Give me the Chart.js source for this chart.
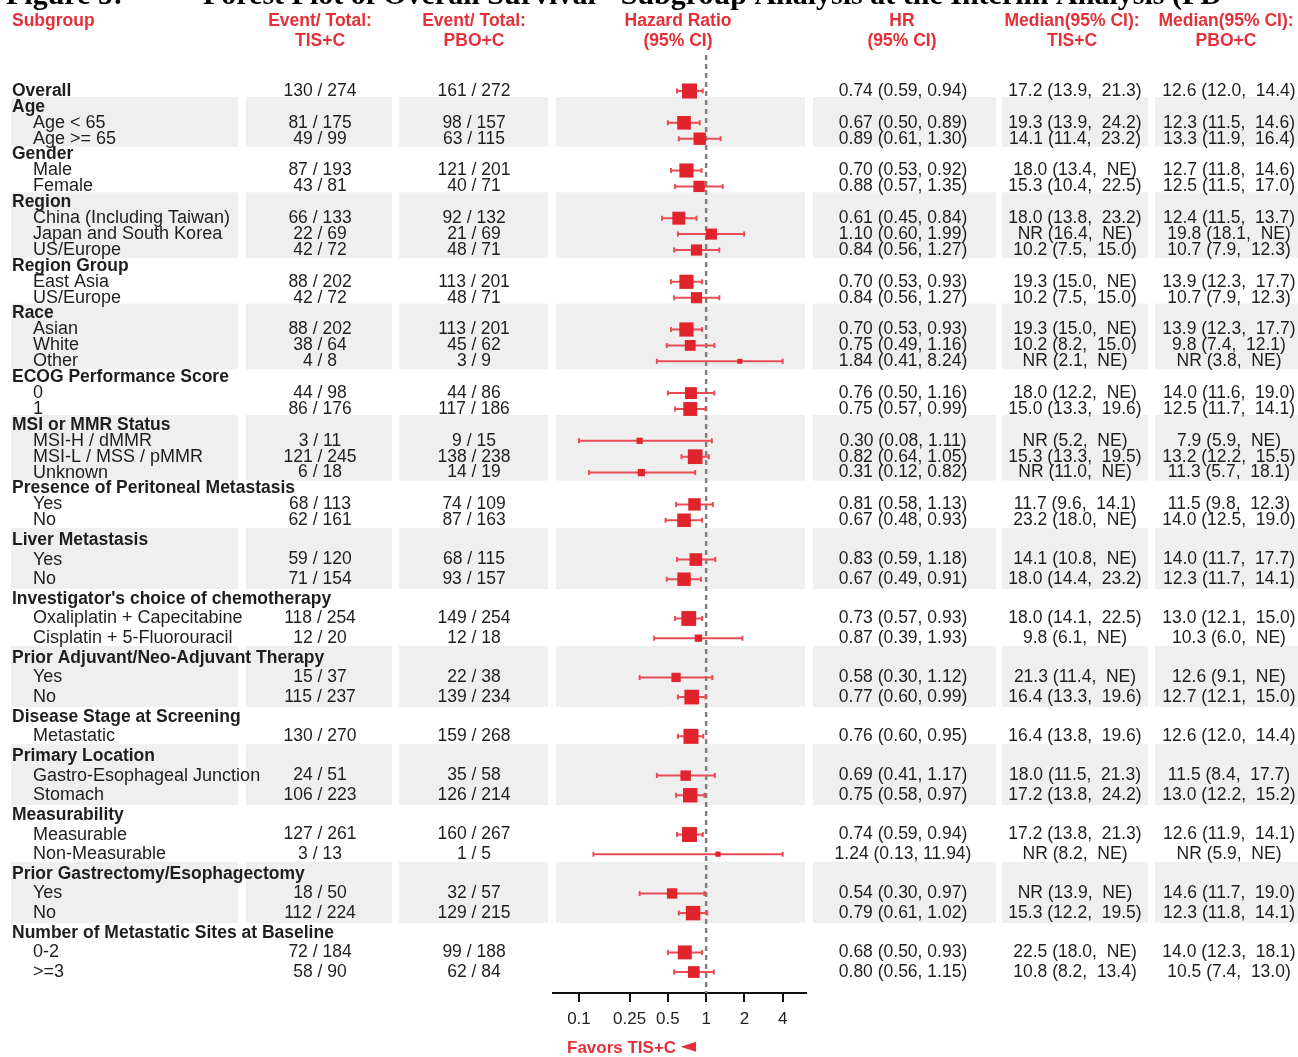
<!DOCTYPE html>
<html>
<head>
<meta charset="utf-8">
<script src="https://cdn.jsdelivr.net/npm/chart.js@4.4.1/dist/chart.umd.min.js"></script>
<style>
  html, body { margin: 0; padding: 0; background: #ffffff; overflow: hidden; }
  canvas { display: block; }
</style>
</head>
<body>
<canvas id="forest" width="1298" height="1057"></canvas>
<script>
// ---- Subgroup definitions -------------------------------------------------
const groupNames = [
  'Overall', 'Age', 'Gender', 'Region', 'Region Group', 'Race', 'ECOG Performance Score',
  'MSI or MMR Status', 'Presence of Peritoneal Metastasis', 'Liver Metastasis',
  "Investigator's choice of chemotherapy", 'Prior Adjuvant/Neo-Adjuvant Therapy',
  'Disease Stage at Screening', 'Primary Location', 'Measurability',
  'Prior Gastrectomy/Esophagectomy', 'Number of Metastatic Sites at Baseline'
];

const subgroups = [
  'Overall',
  'Age < 65', 'Age >= 65',
  'Male', 'Female',
  'China (Including Taiwan)', 'Japan and South Korea', 'US/Europe',
  'East Asia', 'US/Europe',
  'Asian', 'White', 'Other',
  '0', '1',
  'MSI-H / dMMR', 'MSI-L / MSS / pMMR', 'Unknown',
  'Yes', 'No',
  'Yes', 'No',
  'Oxaliplatin + Capecitabine', 'Cisplatin + 5-Fluorouracil',
  'Yes', 'No',
  'Metastatic',
  'Gastro-Esophageal Junction', 'Stomach',
  'Measurable', 'Non-Measurable',
  'Yes', 'No',
  '0-2', '>=3'
];

const groupIndex = [0, 1, 1, 2, 2, 3, 3, 3, 4, 4, 5, 5, 5, 6, 6, 7, 7, 7, 8, 8,
                    9, 9, 10, 10, 11, 11, 12, 13, 13, 14, 14, 15, 15, 16, 16];

// ---- Events / totals -------------------------------------------------------
const eventsTis = [130, 81, 49, 87, 43, 66, 22, 42, 88, 42, 88, 38, 4, 44, 86, 3, 121, 6,
                   68, 62, 59, 71, 118, 12, 15, 115, 130, 24, 106, 127, 3, 18, 112, 72, 58];
const totalTis  = [274, 175, 99, 193, 81, 133, 69, 72, 202, 72, 202, 64, 8, 98, 176, 11, 245, 18,
                   113, 161, 120, 154, 254, 20, 37, 237, 270, 51, 223, 261, 13, 50, 224, 184, 90];
const eventsPbo = [161, 98, 63, 121, 40, 92, 21, 48, 113, 48, 113, 45, 3, 44, 117, 9, 138, 14,
                   74, 87, 68, 93, 149, 12, 22, 139, 159, 35, 126, 160, 1, 32, 129, 99, 62];
const totalPbo  = [272, 157, 115, 201, 71, 132, 69, 71, 201, 71, 201, 62, 9, 86, 186, 15, 238, 19,
                   109, 163, 115, 157, 254, 18, 38, 234, 268, 58, 214, 267, 5, 57, 215, 188, 84];

// ---- Hazard ratios (95% CI) ------------------------------------------------
const hazardRatio = [0.74, 0.67, 0.89, 0.70, 0.88, 0.61, 1.10, 0.84, 0.70, 0.84, 0.70, 0.75, 1.84,
                     0.76, 0.75, 0.30, 0.82, 0.31, 0.81, 0.67, 0.83, 0.67, 0.73, 0.87, 0.58, 0.77,
                     0.76, 0.69, 0.75, 0.74, 1.24, 0.54, 0.79, 0.68, 0.80];
const hrLower = [0.59, 0.50, 0.61, 0.53, 0.57, 0.45, 0.60, 0.56, 0.53, 0.56, 0.53, 0.49, 0.41,
                 0.50, 0.57, 0.08, 0.64, 0.12, 0.58, 0.48, 0.59, 0.49, 0.57, 0.39, 0.30, 0.60,
                 0.60, 0.41, 0.58, 0.59, 0.13, 0.30, 0.61, 0.50, 0.56];
const hrUpper = [0.94, 0.89, 1.30, 0.92, 1.35, 0.84, 1.99, 1.27, 0.93, 1.27, 0.93, 1.16, 8.24,
                 1.16, 0.99, 1.11, 1.05, 0.82, 1.13, 0.93, 1.18, 0.91, 0.93, 1.93, 1.12, 0.99,
                 0.95, 1.17, 0.97, 0.94, 11.94, 0.97, 1.02, 0.93, 1.15];

// ---- Median survival (95% CI), months ----------------------------------------
const medianTis = [
  '17.2 (13.9,  21.3)', '19.3 (13.9,  24.2)', '14.1 (11.4,  23.2)', '18.0 (13.4,  NE)',
  '15.3 (10.4,  22.5)', '18.0 (13.8,  23.2)', 'NR (16.4,  NE)', '10.2 (7.5,  15.0)',
  '19.3 (15.0,  NE)', '10.2 (7.5,  15.0)', '19.3 (15.0,  NE)', '10.2 (8.2,  15.0)',
  'NR (2.1,  NE)', '18.0 (12.2,  NE)', '15.0 (13.3,  19.6)', 'NR (5.2,  NE)',
  '15.3 (13.3,  19.5)', 'NR (11.0,  NE)', '11.7 (9.6,  14.1)', '23.2 (18.0,  NE)',
  '14.1 (10.8,  NE)', '18.0 (14.4,  23.2)', '18.0 (14.1,  22.5)', '9.8 (6.1,  NE)',
  '21.3 (11.4,  NE)', '16.4 (13.3,  19.6)', '16.4 (13.8,  19.6)', '18.0 (11.5,  21.3)',
  '17.2 (13.8,  24.2)', '17.2 (13.8,  21.3)', 'NR (8.2,  NE)', 'NR (13.9,  NE)',
  '15.3 (12.2,  19.5)', '22.5 (18.0,  NE)', '10.8 (8.2,  13.4)'
];
const medianPbo = [
  '12.6 (12.0,  14.4)', '12.3 (11.5,  14.6)', '13.3 (11.9,  16.4)', '12.7 (11.8,  14.6)',
  '12.5 (11.5,  17.0)', '12.4 (11.5,  13.7)', '19.8 (18.1,  NE)', '10.7 (7.9,  12.3)',
  '13.9 (12.3,  17.7)', '10.7 (7.9,  12.3)', '13.9 (12.3,  17.7)', '9.8 (7.4,  12.1)',
  'NR (3.8,  NE)', '14.0 (11.6,  19.0)', '12.5 (11.7,  14.1)', '7.9 (5.9,  NE)',
  '13.2 (12.2,  15.5)', '11.3 (5.7,  18.1)', '11.5 (9.8,  12.3)', '14.0 (12.5,  19.0)',
  '14.0 (11.7,  17.7)', '12.3 (11.7,  14.1)', '13.0 (12.1,  15.0)', '10.3 (6.0,  NE)',
  '12.6 (9.1,  NE)', '12.7 (12.1,  15.0)', '12.6 (12.0,  14.4)', '11.5 (8.4,  17.7)',
  '13.0 (12.2,  15.2)', '12.6 (11.9,  14.1)', 'NR (5.9,  NE)', '14.6 (11.7,  19.0)',
  '12.3 (11.8,  14.1)', '14.0 (12.3,  18.1)', '10.5 (7.4,  13.0)'
];

// ---- Axis ---------------------------------------------------------------------
const axisTicks = [0.1, 0.25, 0.5, 1, 2, 4];
const axisTickLabels = ['0.1', '0.25', '0.5', '1', '2', '4'];
const favorsLabel = 'Favors TIS+C';
const favorsArrow = '\u25C4';
const titleParts = ['Figure 5:', 'Forest Plot of Overall Survival - Subgroup Analysis at the Interim Analysis (FD'];
const headerLines = [
  ['Subgroup', ''], ['Event/ Total:', 'TIS+C'], ['Event/ Total:', 'PBO+C'],
  ['Hazard Ratio', '(95% CI)'], ['HR', '(95% CI)'],
  ['Median(95% CI):', 'TIS+C'], ['Median(95% CI):', 'PBO+C']
];

// ---- Layout ---------------------------------------------------------------------
const RED = '#e5303a';
const MARK = '#e1232d';
const CI_COLOR = '#e84c54';
const BAND = '#efefef';
const TEXT = '#1e1e1e';
const FONT = "'Liberation Sans', Arial, sans-serif";
const CLIP_LO = 0.1, CLIP_HI = 4;

// column extents of the shaded bands, and centres of text columns
const columns = [[11, 238], [246, 392], [399, 548], [556, 805], [813, 996], [1002, 1148], [1155, 1298]];
const colCentre = { evTis: 320, evPbo: 474, hrText: 903, medTis: 1075, medPbo: 1229 };
const headerX = [12, 320, 474, 678, 902, 1072, 1226];

// flatten groups + items into display rows
const rows = [];
(function buildRows() {
  let prev = -1;
  subgroups.forEach((name, k) => {
    const g = groupIndex[k];
    if (g !== prev) {
      prev = g;
      if (name === groupNames[g]) { rows.push({ kind: 'single', label: name, group: g, item: k }); return; }
      rows.push({ kind: 'group', label: groupNames[g], group: g });
    }
    rows.push({ kind: 'item', label: name, group: g, item: k });
  });
})();

// rows are packed tighter in the upper block than in the lower block
const SPLIT = 27, STEP_A = 15.9, STEP_B = 19.64;
function rowOffset(i) {
  return i <= SPLIT ? i * STEP_A : SPLIT * STEP_A + (i - SPLIT) * STEP_B;
}
const FIRST_ROW = 91, AXIS_Y = 993;

function boxSide(k) {
  return 2.9 * Math.log(totalTis[k] + totalPbo[k]) - 3.2;
}

const points = [];
rows.forEach((r, i) => {
  if (r.item !== undefined) points.push({ x: hazardRatio[r.item], y: rowOffset(i), k: r.item });
});

function hrText(k) {
  return hazardRatio[k].toFixed(2) + ' (' + hrLower[k].toFixed(2) + ', ' + hrUpper[k].toFixed(2) + ')';
}

// ---- Plugins --------------------------------------------------------------------
const tablePlugin = {
  id: 'forestTable',
  beforeDatasetsDraw(chart) {
    const ctx = chart.ctx, xs = chart.scales.x, ys = chart.scales.y;
    const yAt = i => ys.getPixelForValue(rowOffset(i));
    ctx.save();
    // alternating group bands
    const groupRows = {};
    rows.forEach((r, i) => {
      (groupRows[r.group] = groupRows[r.group] || []).push(i);
    });
    Object.keys(groupRows).forEach(g => {
      if (g % 2 !== 1) return;
      const idx = groupRows[g];
      const a = idx[0], b = idx[idx.length - 1];
      const top = (yAt(a - 1) + yAt(a)) / 2 - 2;
      const bottom = (yAt(b) + yAt(b + 1)) / 2;
      ctx.fillStyle = BAND;
      columns.forEach(([x0, x1]) => ctx.fillRect(x0, top, x1 - x0, bottom - top));
    });
    // reference line at HR = 1
    const x1 = xs.getPixelForValue(1);
    ctx.strokeStyle = '#808080';
    ctx.lineWidth = 2.5;
    ctx.setLineDash([5, 4]);
    ctx.beginPath();
    ctx.moveTo(x1, 55);
    ctx.lineTo(x1, AXIS_Y);
    ctx.stroke();
    ctx.setLineDash([]);
    // confidence intervals
    ctx.strokeStyle = CI_COLOR;
    ctx.lineWidth = 2;
    rows.forEach((r, i) => {
      if (r.item === undefined) return;
      const k = r.item;
      const y = yAt(i);
      const xa = xs.getPixelForValue(Math.max(hrLower[k], CLIP_LO));
      const xb = xs.getPixelForValue(Math.min(hrUpper[k], CLIP_HI));
      ctx.beginPath();
      ctx.moveTo(xa, y); ctx.lineTo(xb, y);
      ctx.moveTo(xa, y - 2.5); ctx.lineTo(xa, y + 2.5);
      ctx.moveTo(xb, y - 2.5); ctx.lineTo(xb, y + 2.5);
      ctx.stroke();
    });
    ctx.restore();
  },
  afterDraw(chart) {
    const ctx = chart.ctx, ys = chart.scales.y;
    const yAt = i => ys.getPixelForValue(rowOffset(i));
    ctx.save();
    // title line (runs off the top edge)
    ctx.fillStyle = '#000';
    ctx.font = "bold 30px 'Liberation Serif', 'Times New Roman', serif";
    ctx.textBaseline = 'alphabetic';
    ctx.textAlign = 'left';
    ctx.fillText(titleParts[0], 6, 4);
    ctx.fillText(titleParts[1], 203, 4);
    // column headers
    ctx.fillStyle = RED;
    ctx.font = 'bold 17.5px ' + FONT;
    ctx.textBaseline = 'middle';
    headerLines.forEach((lines, c) => {
      ctx.textAlign = c === 0 ? 'left' : 'center';
      ctx.fillText(lines[0], headerX[c], 21);
      if (lines[1]) ctx.fillText(lines[1], headerX[c], 41);
    });
    // rows
    rows.forEach((r, i) => {
      const y = yAt(i);
      ctx.fillStyle = TEXT;
      ctx.textAlign = 'left';
      if (r.kind === 'item') {
        ctx.font = '18px ' + FONT;
        ctx.fillText(r.label, 33, y);
      } else {
        ctx.font = 'bold 17.5px ' + FONT;
        ctx.fillText(r.label, 12, y);
      }
      if (r.item === undefined) return;
      const k = r.item;
      ctx.font = '17.5px ' + FONT;
      ctx.textAlign = 'center';
      ctx.fillText(eventsTis[k] + ' / ' + totalTis[k], colCentre.evTis, y);
      ctx.fillText(eventsPbo[k] + ' / ' + totalPbo[k], colCentre.evPbo, y);
      ctx.fillText(hrText(k), colCentre.hrText, y);
      ctx.fillText(medianTis[k], colCentre.medTis, y);
      ctx.fillText(medianPbo[k], colCentre.medPbo, y);
    });
    // direction note under the axis
    ctx.fillStyle = RED;
    ctx.font = 'bold 17px ' + FONT;
    ctx.textAlign = 'left';
    ctx.fillText(favorsLabel, 567, 1048);
    const w = ctx.measureText(favorsLabel + ' ').width;
    ctx.font = "20px 'DejaVu Sans', sans-serif";
    ctx.fillText(favorsArrow, 567 + w, 1047);
    ctx.restore();
  }
};

// ---- Chart --------------------------------------------------------------------
const chart = new Chart(document.getElementById('forest'), {
  type: 'scatter',
  data: {
    datasets: [{
      data: points,
      pointStyle: 'rect',
      pointRadius: c => boxSide(c.raw.k) / Math.SQRT2,
      pointHoverRadius: c => boxSide(c.raw.k) / Math.SQRT2,
      backgroundColor: MARK,
      borderColor: MARK,
      borderWidth: 0
    }]
  },
  options: {
    responsive: false,
    animation: false,
    events: [],
    layout: { autoPadding: false, padding: { left: 553, right: 1298 - 806, top: 0, bottom: 0 } },
    plugins: { legend: { display: false }, tooltip: { enabled: false } },
    scales: {
      x: {
        type: 'logarithmic',
        position: 'bottom',
        min: 0.0625,
        max: 6.1,
        afterBuildTicks: s => { s.ticks = axisTicks.map(v => ({ value: v })); },
        afterFit: s => { s.height = 1057 - AXIS_Y; },
        border: { display: true, color: '#111', width: 2 },
        grid: { display: true, drawOnChartArea: false, drawTicks: true, tickLength: 9, color: '#111', lineWidth: 2 },
        ticks: {
          autoSkip: false,
          maxRotation: 0,
          padding: 7,
          color: '#222',
          font: { family: FONT, size: 17 },
          callback: (v, i) => axisTickLabels[i]
        }
      },
      y: {
        type: 'linear',
        display: false,
        reverse: true,
        min: -FIRST_ROW,
        max: AXIS_Y - FIRST_ROW
      }
    }
  },
  plugins: [tablePlugin]
});
</script>
</body>
</html>
